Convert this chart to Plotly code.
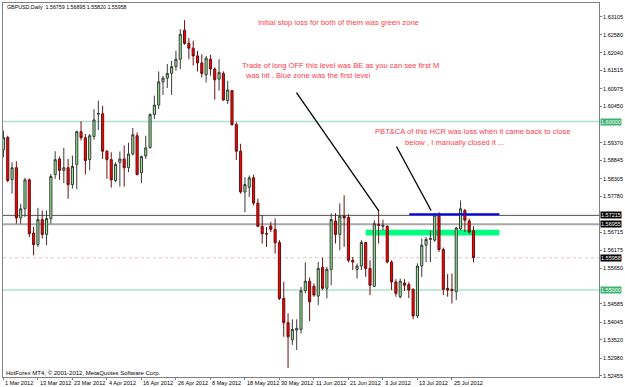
import plotly.graph_objects as go
import pandas as pd

# ---------------- data ----------------
header_text = "GBPUSD,Daily  1.56759 1.56895 1.55820 1.55958"
footer_text = "HotForex MT4, \u00a9 2001-2012, MetaQuotes Software Corp."

dates = pd.bdate_range("2012-03-01", "2012-08-01")

opens = [1.5916, 1.5953, 1.5828, 1.5863, 1.5714, 1.5741, 1.5827, 1.5669, 1.5635, 1.5709,
         1.5665, 1.5712, 1.5843, 1.5889, 1.5855, 1.5863, 1.5813, 1.5873, 1.5970, 1.5952,
         1.5887, 1.5956, 1.6022, 1.6023, 1.5912, 1.5887, 1.5825, 1.5879, 1.5889, 1.5863,
         1.5904, 1.5958, 1.5848, 1.5898, 1.5923, 1.6021, 1.6049, 1.6118, 1.6129, 1.6143,
         1.6163, 1.6185, 1.6271, 1.6232, 1.6218, 1.6195, 1.6174, 1.6139, 1.6185, 1.6156,
         1.6126, 1.6143, 1.6062, 1.6092, 1.5991, 1.5912, 1.5791, 1.5805, 1.5833, 1.5758,
         1.5689, 1.5668, 1.5690, 1.5680, 1.5641, 1.5475, 1.5403, 1.5352, 1.5381, 1.5383,
         1.5498, 1.5526, 1.5511, 1.5482, 1.5567, 1.5505, 1.5561, 1.5705, 1.5665, 1.5720,
         1.5715, 1.5588, 1.5561, 1.5571, 1.5641, 1.5564, 1.5511, 1.5695, 1.5689, 1.5689,
         1.5583, 1.5524, 1.5480, 1.5521, 1.5516, 1.5502, 1.5423, 1.5571, 1.5633, 1.5650,
         1.5648, 1.5722, 1.5620, 1.5505, 1.5502, 1.5495, 1.5682, 1.5736, 1.5705, 1.56759]
highs = [1.5973, 1.5958, 1.5879, 1.5882, 1.5756, 1.5833, 1.5831, 1.5687, 1.5744, 1.5736,
         1.5736, 1.5845, 1.5912, 1.5896, 1.5922, 1.5889, 1.5899, 1.5973, 1.6001, 1.5963,
         1.5963, 1.6037, 1.6062, 1.6047, 1.5916, 1.5909, 1.5879, 1.5911, 1.5929, 1.5937,
         1.5981, 1.5968, 1.5899, 1.5958, 1.6024, 1.6077, 1.6149, 1.6136, 1.6171, 1.6180,
         1.6210, 1.6274, 1.6301, 1.6248, 1.6240, 1.6210, 1.6200, 1.6195, 1.6198, 1.6161,
         1.6185, 1.6149, 1.6121, 1.6094, 1.5998, 1.5934, 1.5835, 1.5840, 1.5842, 1.5771,
         1.5722, 1.5687, 1.5702, 1.5712, 1.5648, 1.5524, 1.5431, 1.5413, 1.5413, 1.5509,
         1.5582, 1.5537, 1.5519, 1.5583, 1.5596, 1.5569, 1.5727, 1.5728, 1.5757, 1.5781,
         1.5725, 1.5598, 1.5579, 1.5648, 1.5643, 1.5588, 1.5707, 1.5734, 1.5709, 1.5692,
         1.5588, 1.5532, 1.5534, 1.5532, 1.5523, 1.5505, 1.5579, 1.5653, 1.5657, 1.5677,
         1.5727, 1.5731, 1.5626, 1.5547, 1.5549, 1.5687, 1.5766, 1.5741, 1.5712, 1.56895]
lows = [1.5894, 1.5820, 1.5786, 1.5697, 1.5697, 1.5717, 1.5657, 1.5603, 1.5628, 1.5653,
        1.5633, 1.5697, 1.5830, 1.5827, 1.5817, 1.5771, 1.5801, 1.5799, 1.5944, 1.5843,
        1.5855, 1.5946, 1.5975, 1.5889, 1.5830, 1.5804, 1.5820, 1.5807, 1.5807, 1.5850,
        1.5899, 1.5840, 1.5817, 1.5889, 1.5919, 1.6008, 1.6037, 1.6079, 1.6100, 1.6079,
        1.6151, 1.6156, 1.6228, 1.6185, 1.6166, 1.6149, 1.6131, 1.6116, 1.6136, 1.6065,
        1.6092, 1.6062, 1.6052, 1.5988, 1.5886, 1.5786, 1.5731, 1.5776, 1.5751, 1.5687,
        1.5638, 1.5628, 1.5672, 1.5608, 1.5470, 1.5361, 1.5268, 1.5337, 1.5322, 1.5371,
        1.5490, 1.5408, 1.5480, 1.5455, 1.5500, 1.5475, 1.5514, 1.5638, 1.5618, 1.5628,
        1.5582, 1.5559, 1.5534, 1.5559, 1.5539, 1.5485, 1.5509, 1.5638, 1.5677, 1.5579,
        1.5500, 1.5480, 1.5475, 1.5497, 1.5476, 1.5413, 1.5416, 1.5539, 1.5583, 1.5583,
        1.5643, 1.5613, 1.5485, 1.5480, 1.5460, 1.5470, 1.5677, 1.5672, 1.5667, 1.55820]
closes = [1.5953, 1.5825, 1.5863, 1.5714, 1.5741, 1.5827, 1.5667, 1.5635, 1.5709, 1.5665,
          1.5712, 1.5837, 1.5887, 1.5855, 1.5863, 1.5813, 1.5867, 1.5970, 1.5952, 1.5884,
          1.5958, 1.6005, 1.6024, 1.5912, 1.5887, 1.5827, 1.5873, 1.5889, 1.5863, 1.5904,
          1.5961, 1.5843, 1.5896, 1.5922, 1.6021, 1.6049, 1.6118, 1.6129, 1.6143, 1.6163,
          1.6185, 1.6259, 1.6232, 1.6218, 1.6195, 1.6174, 1.6143, 1.6188, 1.6156, 1.6124,
          1.6146, 1.6064, 1.6094, 1.5991, 1.5912, 1.5791, 1.5813, 1.5833, 1.5758, 1.5689,
          1.5667, 1.5666, 1.5680, 1.5640, 1.5475, 1.5403, 1.5361, 1.5383, 1.5386, 1.5498,
          1.5526, 1.5465, 1.5485, 1.5564, 1.5505, 1.5561, 1.5709, 1.5665, 1.5719, 1.5714,
          1.5588, 1.5583, 1.5571, 1.5641, 1.5564, 1.5514, 1.5697, 1.5692, 1.5692, 1.5583,
          1.5524, 1.5490, 1.5526, 1.5514, 1.5500, 1.5423, 1.5571, 1.5633, 1.5650, 1.5653,
          1.5722, 1.5620, 1.5502, 1.5500, 1.5498, 1.5684, 1.5741, 1.5707, 1.5672, 1.55958]

tick_dates = ["2012-03-01", "2012-03-13", "2012-03-23", "2012-04-04", "2012-04-16",
              "2012-04-26", "2012-05-08", "2012-05-18", "2012-05-30", "2012-06-11",
              "2012-06-21", "2012-07-03", "2012-07-13", "2012-07-25"]
tick_labels = ["1 Mar 2012", "13 Mar 2012", "23 Mar 2012", "4 Apr 2012", "16 Apr 2012",
               "26 Apr 2012", "8 May 2012", "18 May 2012", "30 May 2012", "11 Jun 2012",
               "21 Jun 2012", "3 Jul 2012", "13 Jul 2012", "25 Jul 2012"]

price_ticks = [1.63105, 1.62580, 1.62040, 1.61515, 1.60975, 1.60450, 1.59370,
               1.58845, 1.58305, 1.57780, 1.56715, 1.56175, 1.55650,
               1.54585, 1.54045, 1.53520, 1.52980, 1.52455]

green_levels = [1.60000, 1.55000]
black_level = 1.57215
gray_level = 1.56955
bid_level = 1.55958

zone_x = [84.0, 115.0]
zone_y = [1.5662, 1.5679]
blue_x = [94.1, 115.0]
blue_y = 1.5725
arrow1 = [(67.95, 1.6086), (87.08, 1.5734)]
arrow2 = [(91.14, 1.5926), (99.17, 1.5736)]

notes = [
    ("Initial stop loss for both of them was green zone", 258, 22),
    ("Trade of long OFF this level was BE as you can see first M", 241, 65),
    ("was hit . Blue zone was the first level", 244, 75),
    ("PBT&CA of this HCR was loss when it came back to close", 376, 131),
    ("below , I manually closed it ...", 406, 142),
]

# ---------------- figure ----------------
W, H = 625, 387
ML, MR, MT, MB = 2, 21, 2, 10
PW, PH = W - ML - MR, H - MT - MB


def pxx(x):
    return (x - ML) / PW


def pxy(y):
    return 1 - (y - MT) / PH


xs = list(range(len(dates)))
date_list = list(dates)
tick_idx = [date_list.index(pd.Timestamp(d)) for d in tick_dates]

fig = go.Figure()
fig.add_trace(go.Candlestick(
    x=xs, open=opens, high=highs, low=lows, close=closes,
    increasing=dict(fillcolor="#90EE90", line=dict(color="#3a3a3a", width=1)),
    decreasing=dict(fillcolor="#FF0000", line=dict(color="#6a1010", width=1)),
    whiskerwidth=0, showlegend=False, hoverinfo="skip",
))

shapes = []
for lv in green_levels:
    shapes.append(dict(type="line", xref="paper", x0=0, x1=1, yref="y", y0=lv, y1=lv,
                       line=dict(color="#A8E4CC", width=1.5), layer="below"))
shapes.append(dict(type="line", xref="paper", x0=0, x1=1, yref="y", y0=black_level, y1=black_level,
                   line=dict(color="#505050", width=1), layer="below"))
shapes.append(dict(type="line", xref="paper", x0=0, x1=1, yref="y", y0=gray_level, y1=gray_level,
                   line=dict(color="#A8A8A8", width=2), layer="below"))
shapes.append(dict(type="line", xref="paper", x0=0, x1=1, yref="y", y0=bid_level, y1=bid_level,
                   line=dict(color="#E0C4C4", width=1, dash="dot"), layer="below"))
shapes.append(dict(type="rect", xref="x", yref="y", x0=zone_x[0], x1=zone_x[1],
                   y0=zone_y[0], y1=zone_y[1], fillcolor="#00FF80", line=dict(width=0),
                   layer="below"))
shapes.append(dict(type="line", xref="x", yref="y", x0=blue_x[0], x1=blue_x[1],
                   y0=blue_y, y1=blue_y, line=dict(color="#0000FF", width=2)))
for (a, b) in (arrow1, arrow2):
    shapes.append(dict(type="line", xref="x", yref="y", x0=a[0], y0=a[1], x1=b[0], y1=b[1],
                       line=dict(color="#000000", width=1.3)))

ann = []
for txt, x, y in notes:
    ann.append(dict(text=txt, xref="paper", yref="paper", x=pxx(x), y=pxy(y),
                    xanchor="left", yanchor="middle", showarrow=False,
                    font=dict(family="Liberation Sans", size=7.6, color="#FF3B4A")))
ann.append(dict(text=header_text, xref="paper", yref="paper", x=pxx(4), y=pxy(6),
                xanchor="left", yanchor="middle", showarrow=False,
                font=dict(family="Liberation Sans", size=5.3, color="#000000")))
ann.append(dict(text=footer_text, xref="paper", yref="paper", x=pxx(3), y=pxy(373),
                xanchor="left", yanchor="middle", showarrow=False,
                font=dict(family="Liberation Sans", size=6, color="#000000")))
for ti, tl in zip(tick_idx, tick_labels):
    ann.append(dict(text=tl, xref="x", yref="paper", x=ti, y=0, yshift=-6,
                    xanchor="left", yanchor="middle", showarrow=False,
                    font=dict(family="Liberation Sans", size=5.6, color="#000000")))

# price label boxes on the axis
boxes = [(green_levels[0], "#3CB371"), (black_level, "#000000"), (gray_level, "#000000"),
         (bid_level, "#000000"), (green_levels[1], "#3CB371")]
for lv, col in boxes:
    ann.append(dict(text="%.5f" % lv, xref="paper", yref="y", x=1, y=lv, xshift=1,
                    xanchor="left", yanchor="middle", showarrow=False, bgcolor=col,
                    borderpad=0, font=dict(family="Liberation Sans", size=5.5, color="#FFFFFF")))

fig.update_layout(
    width=W, height=H,
    margin=dict(l=ML, r=MR, t=MT, b=MB),
    paper_bgcolor="white", plot_bgcolor="white",
    shapes=shapes, annotations=ann,
    xaxis=dict(range=[-0.1, 138.1], rangeslider=dict(visible=False), showgrid=False,
               zeroline=False, tickvals=tick_idx, ticktext=[""] * len(tick_idx),
               ticks="outside", ticklen=2, tickcolor="#808080",
               showline=True, linecolor="#808080", linewidth=1, mirror=True),
    yaxis=dict(range=[1.52417, 1.63520], side="right", showgrid=False, zeroline=False,
               tickvals=price_ticks, ticktext=["%.5f" % v for v in price_ticks],
               ticks="outside", ticklen=2, tickcolor="#808080",
               tickfont=dict(family="Liberation Sans", size=5.5, color="#000000"),
               showline=True, linecolor="#808080", linewidth=1, mirror=True),
)

fig.write_html("out.html")
